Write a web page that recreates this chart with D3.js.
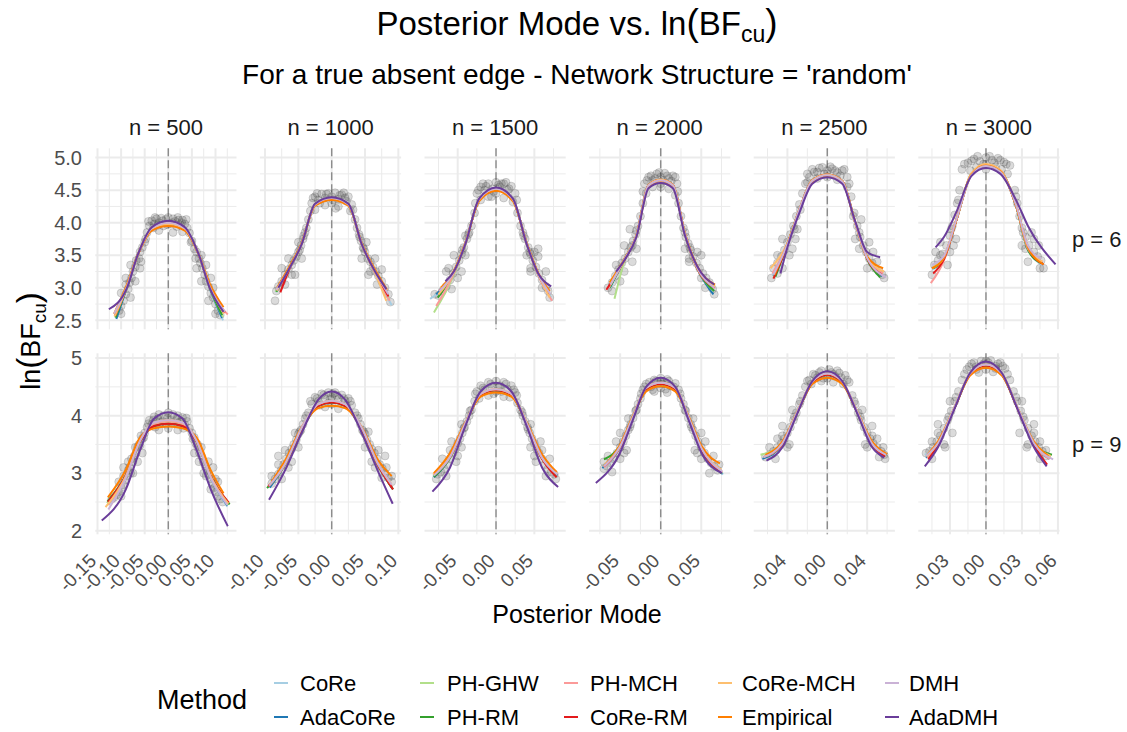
<!DOCTYPE html>
<meta charset="utf-8">
<head>
  <script src="https://d3js.org/d3.v7.min.js"></script>
  <style>
    body { margin: 0; background: #fff; }
    text { font-family: "Liberation Sans", Arial, Helvetica, sans-serif; }
  </style>
</head>
<body>
<div id="chart"></div>
<script>

// ---- data ----
var methods = ["CoRe", "AdaCoRe", "PH-GHW", "PH-RM", "PH-MCH", "CoRe-RM", "CoRe-MCH", "Empirical", "DMH", "AdaDMH"];
var methodColors = ["#A6CEE3", "#1F78B4", "#B2DF8A", "#33A02C", "#FB9A99", "#E31A1C", "#FDBF6F", "#FF7F00", "#CAB2D6", "#6A3D9A"];
var sampleSizes = [500, 1000, 1500, 2000, 2500, 3000];
var nodeCounts = [6, 9];

var xTicks = [
  [-0.15, -0.10, -0.05, 0, 0.05, 0.10],
  [-0.10, -0.05, 0, 0.05, 0.10],
  [-0.05, 0, 0.05],
  [-0.05, 0, 0.05],
  [-0.04, 0, 0.04],
  [-0.03, 0, 0.03, 0.06]
];
var yTicks = [[2.5, 3, 3.5, 4, 4.5, 5], [2, 3, 4, 5]];

// x positions of the fitted-curve knots, per column
var knots_p6 = [
  [-0.088, -0.065, -0.035, 0, 0.035, 0.065, 0.088],
  [-0.065, -0.045, -0.025, 0, 0.025, 0.045, 0.065],
  [-0.055, -0.04, -0.022, 0, 0.022, 0.04, 0.055],
  [-0.045, -0.03, -0.015, 0, 0.015, 0.03, 0.045],
  [-0.04, -0.028, -0.015, 0, 0.015, 0.028, 0.04],
  [-0.035, -0.025, -0.012, 0, 0.012, 0.025, 0.035]
];
var knots_p9 = [
  [-0.09, -0.06, -0.03, 0, 0.03, 0.06, 0.09],
  [-0.07, -0.045, -0.02, 0, 0.02, 0.045, 0.07],
  [-0.06, -0.04, -0.02, 0, 0.02, 0.04, 0.06],
  [-0.05, -0.035, -0.018, 0, 0.018, 0.035, 0.05],
  [-0.045, -0.03, -0.015, 0, 0.015, 0.03, 0.045],
  [-0.04, -0.027, -0.013, 0, 0.013, 0.027, 0.04]
];

// one row per method: [xLeft, yLeft, y at the 7 knots..., xRight, yRight]
var fit_p6_n500 = [
  [-0.112, 2.55, 3.00, 3.50, 3.90, 3.99, 3.90, 3.49, 2.98, 0.116, 2.50],
  [-0.110, 2.52, 3.00, 3.50, 3.90, 3.99, 3.90, 3.50, 2.99, 0.114, 2.54],
  [-0.113, 2.56, 3.00, 3.50, 3.90, 3.99, 3.90, 3.50, 2.99, 0.116, 2.55],
  [-0.112, 2.54, 3.00, 3.50, 3.90, 3.99, 3.90, 3.50, 3.00, 0.114, 2.58],
  [-0.112, 2.58, 3.01, 3.50, 3.90, 3.99, 3.90, 3.50, 3.00, 0.126, 2.59],
  [-0.113, 2.57, 3.01, 3.50, 3.90, 3.99, 3.90, 3.50, 3.01, 0.120, 2.62],
  [-0.114, 2.56, 3.01, 3.50, 3.90, 3.98, 3.90, 3.50, 3.01, 0.118, 2.60],
  [-0.115, 2.60, 3.04, 3.50, 3.88, 3.95, 3.88, 3.50, 3.06, 0.117, 2.70],
  [-0.115, 2.60, 3.01, 3.50, 3.91, 4.00, 3.91, 3.50, 3.01, 0.120, 2.63],
  [-0.126, 2.67, 2.99, 3.50, 3.93, 4.03, 3.93, 3.50, 2.99, 0.117, 2.63]
];
var fit_p6_n1000 = [
  [-0.084, 2.93, 3.26, 3.68, 4.28, 4.38, 4.28, 3.67, 3.22, 0.090, 2.73],
  [-0.083, 2.95, 3.27, 3.68, 4.28, 4.38, 4.28, 3.68, 3.24, 0.085, 2.85],
  [-0.084, 2.94, 3.27, 3.68, 4.28, 4.38, 4.28, 3.68, 3.24, 0.086, 2.84],
  [-0.083, 2.94, 3.27, 3.68, 4.28, 4.38, 4.28, 3.68, 3.24, 0.085, 2.86],
  [-0.082, 2.96, 3.27, 3.68, 4.28, 4.38, 4.28, 3.67, 3.23, 0.087, 2.80],
  [-0.077, 2.93, 3.25, 3.68, 4.28, 4.38, 4.28, 3.68, 3.24, 0.085, 2.87],
  [-0.083, 2.96, 3.28, 3.68, 4.28, 4.37, 4.28, 3.67, 3.23, 0.082, 2.80],
  [-0.082, 3.00, 3.30, 3.69, 4.26, 4.35, 4.26, 3.69, 3.28, 0.083, 2.97],
  [-0.083, 2.97, 3.27, 3.68, 4.28, 4.38, 4.28, 3.68, 3.25, 0.085, 2.90],
  [-0.080, 3.00, 3.27, 3.67, 4.29, 4.39, 4.29, 3.67, 3.25, 0.082, 2.98]
];
var fit_p6_n1500 = [
  [-0.086, 2.83, 3.24, 3.68, 4.35, 4.52, 4.35, 3.68, 3.20, 0.072, 2.85],
  [-0.078, 2.90, 3.24, 3.68, 4.35, 4.52, 4.35, 3.68, 3.21, 0.070, 2.90],
  [-0.081, 2.62, 3.20, 3.67, 4.35, 4.52, 4.35, 3.68, 3.21, 0.070, 2.88],
  [-0.076, 2.85, 3.23, 3.68, 4.35, 4.52, 4.35, 3.68, 3.21, 0.070, 2.90],
  [-0.078, 2.72, 3.22, 3.68, 4.35, 4.52, 4.35, 3.68, 3.20, 0.073, 2.80],
  [-0.074, 2.95, 3.24, 3.68, 4.35, 4.52, 4.35, 3.68, 3.21, 0.069, 2.90],
  [-0.075, 2.90, 3.24, 3.68, 4.35, 4.51, 4.35, 3.68, 3.21, 0.070, 2.85],
  [-0.072, 3.00, 3.26, 3.69, 4.33, 4.49, 4.33, 3.69, 3.23, 0.070, 2.95],
  [-0.074, 2.95, 3.24, 3.68, 4.36, 4.52, 4.36, 3.68, 3.21, 0.071, 2.90],
  [-0.066, 3.10, 3.25, 3.67, 4.37, 4.54, 4.37, 3.67, 3.22, 0.072, 3.02]
];
var fit_p6_n2000 = [
  [-0.062, 3.00, 3.43, 3.80, 4.58, 4.66, 4.58, 3.82, 3.30, 0.066, 2.95],
  [-0.062, 3.02, 3.43, 3.80, 4.58, 4.66, 4.58, 3.82, 3.30, 0.065, 2.90],
  [-0.057, 2.83, 3.40, 3.80, 4.58, 4.66, 4.58, 3.82, 3.30, 0.065, 2.95],
  [-0.063, 3.00, 3.43, 3.80, 4.58, 4.66, 4.58, 3.82, 3.30, 0.066, 2.95],
  [-0.064, 3.00, 3.43, 3.80, 4.58, 4.66, 4.58, 3.82, 3.30, 0.067, 3.00],
  [-0.067, 2.97, 3.42, 3.80, 4.58, 4.66, 4.58, 3.82, 3.30, 0.066, 3.00],
  [-0.062, 3.05, 3.43, 3.80, 4.58, 4.66, 4.58, 3.82, 3.31, 0.067, 3.02],
  [-0.063, 3.08, 3.44, 3.80, 4.56, 4.64, 4.56, 3.83, 3.33, 0.067, 3.05],
  [-0.062, 3.05, 3.43, 3.80, 4.57, 4.65, 4.57, 3.82, 3.31, 0.066, 3.00],
  [-0.055, 3.25, 3.42, 3.78, 4.53, 4.61, 4.53, 3.80, 3.33, 0.066, 3.05]
];
var fit_p6_n2500 = [
  [-0.055, 3.20, 3.67, 4.20, 4.65, 4.74, 4.64, 4.00, 3.45, 0.056, 3.20],
  [-0.054, 3.18, 3.67, 4.20, 4.65, 4.74, 4.64, 4.00, 3.45, 0.055, 3.18],
  [-0.054, 3.15, 3.67, 4.20, 4.65, 4.74, 4.64, 4.00, 3.45, 0.055, 3.20],
  [-0.052, 3.17, 3.67, 4.20, 4.65, 4.74, 4.64, 4.00, 3.44, 0.053, 3.16],
  [-0.055, 3.22, 3.67, 4.20, 4.65, 4.74, 4.64, 4.00, 3.45, 0.056, 3.22],
  [-0.054, 3.14, 3.66, 4.20, 4.65, 4.74, 4.64, 4.00, 3.45, 0.055, 3.20],
  [-0.057, 3.30, 3.68, 4.20, 4.65, 4.74, 4.64, 4.00, 3.46, 0.057, 3.25],
  [-0.053, 3.20, 3.68, 4.19, 4.63, 4.72, 4.62, 4.01, 3.48, 0.056, 3.30],
  [-0.054, 3.20, 3.67, 4.20, 4.64, 4.73, 4.63, 4.00, 3.46, 0.059, 3.16],
  [-0.047, 3.22, 3.62, 4.15, 4.60, 4.70, 4.60, 4.02, 3.55, 0.053, 3.47]
];
var fit_p6_n3000 = [
  [-0.045, 3.28, 3.45, 4.02, 4.75, 4.89, 4.80, 4.27, 3.60, 0.047, 3.35],
  [-0.045, 3.30, 3.45, 4.02, 4.75, 4.89, 4.80, 4.27, 3.60, 0.047, 3.38],
  [-0.044, 3.35, 3.47, 4.02, 4.75, 4.89, 4.80, 4.27, 3.60, 0.043, 3.42],
  [-0.044, 3.30, 3.45, 4.02, 4.75, 4.89, 4.80, 4.26, 3.58, 0.046, 3.38],
  [-0.046, 3.07, 3.42, 4.02, 4.75, 4.89, 4.80, 4.27, 3.60, 0.047, 3.40],
  [-0.044, 3.22, 3.44, 4.02, 4.75, 4.89, 4.80, 4.27, 3.62, 0.048, 3.36],
  [-0.045, 3.30, 3.47, 4.04, 4.76, 4.90, 4.81, 4.28, 3.62, 0.047, 3.40],
  [-0.045, 3.30, 3.47, 4.02, 4.74, 4.88, 4.79, 4.27, 3.63, 0.048, 3.36],
  [-0.045, 3.35, 3.49, 4.03, 4.73, 4.87, 4.78, 4.28, 3.65, 0.046, 3.45],
  [-0.042, 3.62, 3.78, 4.15, 4.72, 4.84, 4.75, 4.35, 3.95, 0.058, 3.36]
];
var fit_p9_n500 = [
  [-0.126, 2.45, 2.95, 3.55, 3.84, 3.88, 3.84, 3.55, 2.93, 0.125, 2.42],
  [-0.127, 2.47, 2.95, 3.55, 3.83, 3.87, 3.83, 3.55, 2.93, 0.125, 2.44],
  [-0.130, 2.48, 2.95, 3.55, 3.84, 3.88, 3.84, 3.55, 2.94, 0.128, 2.45],
  [-0.129, 2.51, 2.96, 3.55, 3.82, 3.86, 3.82, 3.55, 2.95, 0.130, 2.46],
  [-0.128, 2.45, 2.95, 3.56, 3.86, 3.90, 3.86, 3.56, 2.94, 0.127, 2.47],
  [-0.128, 2.50, 2.96, 3.55, 3.82, 3.86, 3.82, 3.55, 2.95, 0.128, 2.49],
  [-0.133, 2.41, 2.95, 3.57, 3.88, 3.92, 3.88, 3.57, 2.94, 0.127, 2.47],
  [-0.128, 2.58, 3.06, 3.62, 3.78, 3.81, 3.78, 3.62, 3.05, 0.117, 2.65],
  [-0.127, 2.37, 2.92, 3.56, 3.88, 3.92, 3.88, 3.56, 2.92, 0.125, 2.45],
  [-0.141, 2.18, 2.72, 3.40, 3.95, 4.06, 3.95, 3.40, 2.72, 0.126, 2.08]
];
var fit_p9_n1000 = [
  [-0.094, 2.76, 3.15, 3.77, 4.18, 4.24, 4.18, 3.77, 3.13, 0.091, 2.74],
  [-0.093, 2.75, 3.15, 3.77, 4.17, 4.23, 4.17, 3.77, 3.13, 0.091, 2.73],
  [-0.096, 2.75, 3.15, 3.77, 4.18, 4.24, 4.18, 3.77, 3.14, 0.090, 2.76],
  [-0.097, 2.74, 3.15, 3.77, 4.17, 4.23, 4.17, 3.77, 3.13, 0.092, 2.72],
  [-0.095, 2.77, 3.16, 3.78, 4.19, 4.25, 4.19, 3.78, 3.14, 0.090, 2.78],
  [-0.095, 2.77, 3.16, 3.77, 4.17, 4.23, 4.17, 3.77, 3.13, 0.092, 2.72],
  [-0.093, 2.80, 3.17, 3.79, 4.20, 4.26, 4.20, 3.79, 3.15, 0.089, 2.82],
  [-0.090, 2.85, 3.22, 3.80, 4.13, 4.17, 4.13, 3.80, 3.22, 0.090, 2.95],
  [-0.094, 2.78, 3.16, 3.79, 4.20, 4.26, 4.20, 3.79, 3.15, 0.090, 2.80],
  [-0.094, 2.54, 3.05, 3.70, 4.28, 4.42, 4.28, 3.70, 3.02, 0.0915, 2.47]
];
var fit_p9_n1500 = [
  [-0.082, 2.95, 3.27, 3.86, 4.37, 4.45, 4.37, 3.86, 3.26, 0.080, 2.98],
  [-0.081, 2.93, 3.27, 3.86, 4.36, 4.44, 4.36, 3.86, 3.26, 0.080, 2.97],
  [-0.082, 2.96, 3.27, 3.86, 4.37, 4.45, 4.37, 3.86, 3.26, 0.079, 2.98],
  [-0.081, 2.94, 3.27, 3.86, 4.36, 4.44, 4.36, 3.86, 3.26, 0.079, 2.97],
  [-0.081, 2.97, 3.28, 3.87, 4.38, 4.46, 4.38, 3.87, 3.27, 0.080, 2.98],
  [-0.081, 2.97, 3.28, 3.86, 4.36, 4.44, 4.36, 3.86, 3.25, 0.079, 2.93],
  [-0.082, 2.98, 3.29, 3.87, 4.38, 4.46, 4.38, 3.87, 3.27, 0.080, 3.00],
  [-0.081, 3.00, 3.35, 3.88, 4.33, 4.40, 4.33, 3.88, 3.33, 0.079, 3.02],
  [-0.081, 2.96, 3.28, 3.87, 4.38, 4.46, 4.38, 3.87, 3.27, 0.080, 2.98],
  [-0.083, 2.68, 3.10, 3.82, 4.42, 4.57, 4.42, 3.82, 3.10, 0.081, 2.76]
];
var fit_p9_n2000 = [
  [-0.071, 3.08, 3.45, 3.94, 4.47, 4.56, 4.47, 3.94, 3.42, 0.077, 2.98],
  [-0.072, 3.09, 3.45, 3.94, 4.47, 4.56, 4.47, 3.94, 3.42, 0.076, 2.99],
  [-0.071, 3.12, 3.46, 3.94, 4.47, 4.56, 4.47, 3.94, 3.42, 0.076, 3.00],
  [-0.070, 3.24, 3.48, 3.94, 4.46, 4.55, 4.46, 3.94, 3.42, 0.075, 3.00],
  [-0.070, 3.10, 3.46, 3.95, 4.48, 4.57, 4.48, 3.95, 3.43, 0.076, 3.02],
  [-0.070, 3.12, 3.46, 3.94, 4.46, 4.55, 4.46, 3.94, 3.42, 0.074, 3.03],
  [-0.069, 3.15, 3.47, 3.95, 4.48, 4.57, 4.48, 3.95, 3.44, 0.075, 3.06],
  [-0.068, 3.15, 3.50, 3.97, 4.42, 4.51, 4.42, 3.97, 3.48, 0.073, 3.17],
  [-0.070, 3.12, 3.47, 3.95, 4.48, 4.57, 4.48, 3.95, 3.44, 0.076, 3.03],
  [-0.080, 2.83, 3.36, 3.90, 4.50, 4.66, 4.50, 3.90, 3.36, 0.0755, 3.00]
];
var fit_p9_n2500 = [
  [-0.064, 3.26, 3.50, 4.06, 4.58, 4.72, 4.58, 4.06, 3.50, 0.058, 3.30],
  [-0.065, 3.25, 3.50, 4.06, 4.57, 4.71, 4.57, 4.06, 3.50, 0.058, 3.29],
  [-0.067, 3.32, 3.51, 4.06, 4.58, 4.72, 4.58, 4.06, 3.50, 0.059, 3.32],
  [-0.064, 3.28, 3.50, 4.06, 4.57, 4.71, 4.57, 4.06, 3.50, 0.060, 3.33],
  [-0.064, 3.28, 3.50, 4.06, 4.58, 4.72, 4.58, 4.06, 3.50, 0.058, 3.30],
  [-0.062, 3.30, 3.51, 4.06, 4.57, 4.71, 4.57, 4.06, 3.50, 0.058, 3.29],
  [-0.063, 3.30, 3.52, 4.07, 4.59, 4.73, 4.59, 4.07, 3.51, 0.059, 3.34],
  [-0.062, 3.32, 3.55, 4.07, 4.55, 4.66, 4.55, 4.07, 3.55, 0.060, 3.33],
  [-0.064, 3.28, 3.52, 4.07, 4.59, 4.73, 4.59, 4.07, 3.51, 0.059, 3.32],
  [-0.061, 3.22, 3.45, 4.04, 4.60, 4.77, 4.60, 4.04, 3.45, 0.057, 3.27]
];
var fit_p9_n3000 = [
  [-0.051, 3.32, 3.50, 4.10, 4.73, 4.88, 4.73, 4.10, 3.50, 0.054, 3.28],
  [-0.050, 3.27, 3.50, 4.10, 4.72, 4.87, 4.72, 4.10, 3.50, 0.053, 3.25],
  [-0.050, 3.30, 3.51, 4.10, 4.73, 4.88, 4.73, 4.10, 3.50, 0.054, 3.30],
  [-0.049, 3.28, 3.50, 4.10, 4.72, 4.87, 4.72, 4.10, 3.50, 0.055, 3.32],
  [-0.049, 3.27, 3.50, 4.10, 4.73, 4.88, 4.73, 4.10, 3.50, 0.053, 3.25],
  [-0.048, 3.24, 3.49, 4.10, 4.72, 4.87, 4.72, 4.09, 3.48, 0.051, 3.15],
  [-0.049, 3.30, 3.52, 4.11, 4.74, 4.89, 4.74, 4.11, 3.52, 0.054, 3.30],
  [-0.049, 3.32, 3.55, 4.10, 4.70, 4.83, 4.70, 4.10, 3.55, 0.052, 3.30],
  [-0.050, 3.30, 3.52, 4.11, 4.74, 4.89, 4.74, 4.11, 3.52, 0.056, 3.24],
  [-0.051, 3.12, 3.45, 4.08, 4.75, 4.94, 4.75, 4.08, 3.45, 0.0506, 3.12]
];

// simulated estimates (posterior mode, ln BF) shown as the grey cloud
var points_p6_n500 = [[-0.04,3.95],[-0.035,4.03],[-0.03,3.98],[-0.025,4.06],[-0.02,4.0],[-0.015,4.07],[-0.01,3.95],[-0.005,4.05],[0,4.08],[0.005,3.98],[0.01,4.06],[0.015,4.02],[0.02,4.08],[0.025,3.97],[0.03,4.04],[0.035,3.98],[0.04,3.92],[-0.02,3.88],[0.01,3.85],[0.03,3.86],[-0.045,3.85],[0.045,3.84],
  [-0.05,3.7],[-0.055,3.62],[-0.06,3.55],[-0.062,3.45],[-0.068,3.42],[-0.07,3.32],[-0.075,3.25],[-0.078,3.15],[-0.082,3.08],[-0.085,2.98],[-0.09,2.9],[-0.095,2.8],[-0.1,2.72],[-0.104,2.65],[-0.09,3.05],[-0.1,2.92],[-0.08,2.85],
  [0.05,3.72],[0.055,3.6],[0.06,3.55],[0.065,3.45],[0.068,3.38],[0.072,3.3],[0.077,3.2],[0.08,3.1],[0.085,3.02],[0.09,2.92],[0.095,2.85],[0.1,2.75],[0.105,2.65],[0.11,2.58],[0.095,3.0],[0.085,2.8],[0.07,3.5],
  [-0.042,4.02],[-0.032,3.92],[-0.022,3.96],[-0.012,4.03],[-0.002,3.97],[0.008,4.0],[0.018,3.94],[0.028,4.0],[0.038,4.05],[-0.028,4.08],[0.022,4.04],[-0.048,3.75],[0.048,3.7],[-0.058,3.4],[0.058,3.45],
  [-0.07,3.1],[-0.08,3.35],[-0.06,3.3],[-0.09,3.15],[-0.1,2.6],[0.07,3.1],[0.08,3.35],[0.06,3.3],[0.09,3.15],[0.1,2.6]];
var points_p6_n1000 = [[-0.03,4.3],[-0.025,4.4],[-0.02,4.35],[-0.015,4.44],[-0.01,4.38],[-0.005,4.45],[0,4.4],[0.005,4.46],[0.01,4.36],[0.015,4.43],[0.02,4.38],[0.025,4.4],[0.03,4.28],[-0.01,4.27],[0.01,4.25],[-0.025,4.2],[0.028,4.18],[0,4.3],
  [-0.035,4.05],[-0.038,3.92],[-0.04,3.85],[-0.043,3.75],[-0.046,3.65],[-0.05,3.55],[-0.053,3.48],[-0.057,3.42],[-0.06,3.35],[-0.065,3.28],[-0.07,3.2],[-0.075,3.1],[-0.08,3.02],[-0.083,2.95],[-0.07,3.05],[-0.06,3.2],[-0.05,3.7],
  [0.035,4.05],[0.038,3.92],[0.041,3.82],[0.044,3.72],[0.047,3.62],[0.05,3.55],[0.054,3.45],[0.058,3.4],[0.062,3.32],[0.066,3.25],[0.07,3.18],[0.075,3.1],[0.08,3.0],[0.085,2.9],[0.068,3.05],[0.058,3.25],[0.052,3.7],
  [-0.028,4.38],[-0.018,4.3],[-0.008,4.44],[0.002,4.35],[0.012,4.42],[0.022,4.33],[0.032,4.2],[-0.032,4.18],[-0.022,4.45],[0.018,4.46],[-0.042,3.8],[0.042,3.78],[-0.048,3.58],[0.048,3.6],[0.006,4.22],
  [-0.055,3.2],[-0.065,3.45],[-0.045,3.45],[-0.075,3.3],[0.055,3.2],[0.065,3.45],[0.045,3.45],[0.075,3.28],[-0.085,2.8],[0.088,2.78]];
var points_p6_n1500 = [[-0.025,4.45],[-0.02,4.55],[-0.015,4.5],[-0.01,4.6],[-0.005,4.52],[0,4.62],[0.005,4.55],[0.01,4.6],[0.015,4.5],[0.02,4.56],[0.025,4.45],[-0.01,4.4],[0.01,4.38],[0,4.45],[-0.02,4.35],[0.022,4.32],
  [-0.028,4.15],[-0.032,3.95],[-0.035,3.85],[-0.038,3.75],[-0.042,3.62],[-0.045,3.52],[-0.048,3.42],[-0.052,3.32],[-0.056,3.22],[-0.06,3.12],[-0.065,3.02],[-0.07,2.95],[-0.075,2.88],[-0.058,2.98],[-0.05,3.15],[-0.04,3.8],[-0.062,3.3],
  [0.028,4.15],[0.032,3.95],[0.035,3.85],[0.038,3.75],[0.042,3.62],[0.045,3.52],[0.048,3.42],[0.052,3.32],[0.056,3.22],[0.06,3.12],[0.065,3.02],[0.068,2.95],[0.055,3.6],[0.06,3.0],[0.045,3.3],[0.05,3.55],
  [-0.023,4.5],[-0.013,4.56],[-0.003,4.48],[0.007,4.6],[0.017,4.52],[0.027,4.35],[-0.027,4.3],[-0.017,4.6],[0.013,4.62],[-0.006,4.4],[-0.036,3.82],[0.036,3.8],[-0.044,3.58],[0.044,3.55],[0.003,4.58],
  [-0.045,3.25],[-0.055,3.5],[-0.04,3.5],[-0.065,3.25],[0.045,3.25],[0.055,3.48],[0.04,3.5],[0.065,3.25],[-0.08,2.9],[0.07,2.85]];
var points_p6_n2000 = [[-0.02,4.6],[-0.015,4.7],[-0.01,4.65],[-0.005,4.75],[0,4.7],[0.005,4.76],[0.01,4.68],[0.015,4.72],[0.02,4.6],[-0.01,4.55],[0.01,4.52],[0,4.6],[-0.018,4.45],[0.018,4.42],
  [-0.022,4.3],[-0.025,4.1],[-0.028,3.95],[-0.031,3.82],[-0.034,3.72],[-0.037,3.62],[-0.04,3.55],[-0.044,3.45],[-0.048,3.38],[-0.052,3.28],[-0.056,3.18],[-0.06,3.08],[-0.05,3.1],[-0.045,3.25],[-0.038,3.9],[-0.06,2.95],
  [0.022,4.3],[0.025,4.1],[0.028,3.92],[0.031,3.78],[0.034,3.68],[0.037,3.58],[0.04,3.48],[0.044,3.38],[0.048,3.3],[0.052,3.22],[0.056,3.15],[0.06,3.08],[0.064,2.98],[0.05,3.5],[0.055,3.0],[0.035,3.4],
  [-0.017,4.65],[-0.012,4.72],[-0.007,4.68],[-0.002,4.77],[0.003,4.65],[0.008,4.72],[0.013,4.64],[0.018,4.7],[-0.022,4.48],[0.021,4.48],[-0.03,3.88],[0.03,3.85],[-0.035,3.65],[0.036,3.62],[0,4.55],
  [-0.035,3.4],[-0.045,3.65],[-0.03,3.6],[-0.055,3.35],[0.035,3.45],[0.045,3.55],[0.03,3.6],[0.05,3.15],[-0.065,3.0],[0.066,2.9]];
var points_p6_n2500 = [[-0.02,4.75],[-0.015,4.82],[-0.01,4.78],[-0.005,4.85],[0,4.8],[0.005,4.83],[0.01,4.77],[0.015,4.8],[0.02,4.7],[-0.01,4.68],[0.01,4.66],[0,4.7],[-0.022,4.6],[0.02,4.55],
  [-0.025,4.45],[-0.028,4.28],[-0.031,4.1],[-0.034,3.95],[-0.037,3.82],[-0.04,3.7],[-0.043,3.58],[-0.046,3.48],[-0.05,3.38],[-0.054,3.3],[-0.045,3.3],[-0.038,3.5],[-0.03,3.9],[-0.05,3.22],
  [0.024,4.4],[0.027,4.15],[0.03,3.95],[0.033,3.78],[0.036,3.65],[0.039,3.55],[0.042,3.45],[0.045,3.38],[0.048,3.3],[0.052,3.25],[0.046,3.55],[0.04,3.3],[0.034,4.05],[0.055,3.2],
  [-0.018,4.7],[-0.013,4.78],[-0.008,4.84],[-0.003,4.75],[0.003,4.86],[0.008,4.8],[0.013,4.72],[0.017,4.82],[-0.02,4.62],[0.022,4.6],[-0.027,4.2],[0.026,4.1],[-0.033,3.9],[0.032,3.85],[0,4.75],
  [-0.035,3.6],[-0.045,3.75],[-0.032,3.75],[-0.05,3.5],[0.032,3.6],[0.042,3.7],[0.028,3.75],[0.05,3.4],[-0.056,3.15],[0.057,3.15]];
var points_p6_n3000 = [[-0.015,4.92],[-0.01,4.98],[-0.005,4.94],[0,5.0],[0.005,4.96],[0.01,4.99],[0.015,4.93],[0.02,4.88],[-0.02,4.82],[-0.008,4.85],[0.008,4.86],[0.018,4.75],[0,4.82],
  [-0.022,4.5],[-0.024,4.3],[-0.026,4.12],[-0.028,3.95],[-0.03,3.8],[-0.033,3.65],[-0.036,3.52],[-0.04,3.42],[-0.043,3.35],[-0.032,3.35],[-0.025,3.75],[-0.038,3.7],
  [0.024,4.5],[0.026,4.3],[0.028,4.1],[0.03,3.92],[0.033,3.78],[0.036,3.65],[0.04,3.55],[0.043,3.48],[0.046,3.42],[0.038,3.85],[0.044,3.65],[0.035,3.4],
  [-0.018,4.9],[-0.012,4.95],[-0.007,5.02],[-0.002,4.9],[0.003,5.02],[0.007,4.92],[0.012,4.96],[0.017,4.9],[-0.013,4.8],[0.013,4.82],[-0.023,4.35],[0.025,4.4],[-0.029,3.9],[0.031,3.85],[0,4.9],
  [-0.03,3.55],[-0.038,3.5],[-0.027,3.65],[-0.042,3.55],[0.033,3.6],[0.04,3.75],[0.03,3.65],[0.045,3.3],[-0.045,3.2],[0.048,3.3]];
var points_p9_n500 = [[-0.045,3.8],[-0.04,3.92],[-0.035,3.85],[-0.03,3.98],[-0.025,3.9],[-0.02,4.02],[-0.015,3.88],[-0.01,4.0],[-0.005,3.85],[0,4.05],[0.005,3.92],[0.01,4.02],[0.015,3.86],[0.02,4.0],[0.025,3.9],[0.03,3.97],[0.035,3.84],[0.04,3.9],[0.045,3.78],[-0.02,3.75],[0.02,3.75],[0,3.78],
  [-0.05,3.7],[-0.055,3.6],[-0.058,3.65],[-0.06,3.48],[-0.065,3.45],[-0.068,3.35],[-0.072,3.3],[-0.075,3.2],[-0.078,3.25],[-0.082,3.1],[-0.085,3.05],[-0.088,2.95],[-0.092,2.88],[-0.096,2.8],[-0.1,2.75],[-0.105,2.68],[-0.11,2.62],[-0.115,2.58],[-0.12,2.55],[-0.095,2.95],[-0.08,3.0],[-0.07,3.45],[-0.1,2.6],
  [0.05,3.7],[0.055,3.62],[0.058,3.52],[0.062,3.45],[0.066,3.35],[0.07,3.3],[0.074,3.2],[0.078,3.12],[0.082,3.05],[0.086,2.98],[0.09,2.9],[0.094,2.82],[0.098,2.75],[0.102,2.68],[0.106,2.6],[0.11,2.55],[0.115,2.5],[0.09,2.72],[0.08,2.95],[0.07,3.45],[0.1,2.9],
  [-0.042,3.86],[-0.032,3.92],[-0.022,3.95],[-0.012,3.9],[-0.002,3.96],[0.008,3.88],[0.018,3.94],[0.028,3.9],[0.038,3.96],[-0.028,3.8],[0.032,3.78],[-0.052,3.62],[0.052,3.6],[-0.062,3.5],[0.062,3.5],
  [-0.085,3.2],[-0.075,3.0],[-0.095,3.1],[-0.065,3.2],[-0.055,3.35],[0.085,3.2],[0.075,3.0],[0.095,3.1],[0.065,3.2],[0.055,3.35],[-0.105,2.85],[0.105,2.85]];
var points_p9_n1000 = [[-0.03,4.2],[-0.025,4.32],[-0.02,4.25],[-0.015,4.38],[-0.01,4.3],[-0.005,4.4],[0,4.32],[0.005,4.4],[0.01,4.28],[0.015,4.36],[0.02,4.26],[0.025,4.3],[0.03,4.18],[-0.01,4.15],[0.01,4.12],[0,4.2],[-0.035,4.05],[0.035,4.05],
  [-0.04,3.95],[-0.043,3.85],[-0.046,3.75],[-0.05,3.68],[-0.053,3.58],[-0.057,3.5],[-0.06,3.42],[-0.064,3.35],[-0.068,3.25],[-0.072,3.15],[-0.076,3.05],[-0.08,2.98],[-0.085,2.9],[-0.09,2.82],[-0.065,3.1],[-0.055,3.7],[-0.075,2.9],[-0.08,3.15],
  [0.04,3.95],[0.043,3.85],[0.046,3.75],[0.05,3.68],[0.053,3.58],[0.057,3.5],[0.06,3.42],[0.064,3.35],[0.068,3.25],[0.072,3.15],[0.076,3.08],[0.08,3.0],[0.085,2.92],[0.09,2.85],[0.065,3.1],[0.055,3.72],[0.075,2.92],[0.082,3.1],
  [-0.032,4.25],[-0.022,4.3],[-0.012,4.36],[-0.002,4.28],[0.008,4.35],[0.018,4.3],[0.028,4.25],[-0.018,4.18],[0.022,4.18],[-0.005,4.22],[-0.038,4.0],[0.038,4.0],[-0.048,3.72],[0.048,3.72],[0.002,4.38],
  [-0.07,3.4],[-0.06,3.2],[-0.08,3.3],[-0.05,3.45],[0.07,3.4],[0.06,3.2],[0.08,3.3],[0.05,3.45],[-0.09,2.95],[0.09,2.95]];
var points_p9_n1500 = [[-0.025,4.42],[-0.02,4.52],[-0.015,4.45],[-0.01,4.58],[-0.005,4.5],[0,4.6],[0.005,4.52],[0.01,4.58],[0.015,4.46],[0.02,4.52],[0.025,4.4],[-0.01,4.35],[0.01,4.33],[0,4.42],[-0.028,4.25],[0.028,4.22],
  [-0.032,4.1],[-0.035,4.0],[-0.038,3.9],[-0.041,3.8],[-0.044,3.7],[-0.047,3.6],[-0.05,3.52],[-0.053,3.42],[-0.056,3.35],[-0.06,3.25],[-0.064,3.15],[-0.068,3.08],[-0.072,3.02],[-0.076,2.98],[-0.058,3.55],[-0.05,3.3],[-0.065,2.95],[-0.045,3.85],
  [0.032,4.1],[0.035,4.0],[0.038,3.9],[0.041,3.8],[0.044,3.7],[0.047,3.6],[0.05,3.52],[0.053,3.42],[0.056,3.35],[0.06,3.25],[0.064,3.15],[0.068,3.08],[0.072,3.02],[0.076,2.98],[0.058,3.55],[0.05,3.3],[0.065,2.95],[0.045,3.85],
  [-0.027,4.38],[-0.017,4.48],[-0.007,4.55],[0.003,4.48],[0.013,4.55],[0.023,4.45],[-0.022,4.3],[0.018,4.32],[-0.003,4.38],[0.007,4.42],[-0.034,4.08],[0.034,4.06],[-0.042,3.78],[0.042,3.76],[0.027,4.35],
  [-0.06,3.4],[-0.052,3.2],[-0.07,3.25],[-0.045,3.45],[0.06,3.4],[0.052,3.2],[0.07,3.25],[0.045,3.45],[-0.078,2.9],[0.078,2.9]];
var points_p9_n2000 = [[-0.022,4.45],[-0.018,4.55],[-0.012,4.5],[-0.008,4.62],[-0.004,4.55],[0,4.65],[0.004,4.56],[0.008,4.63],[0.012,4.52],[0.018,4.56],[0.022,4.45],[-0.008,4.42],[0.008,4.4],[0,4.48],[-0.025,4.3],[0.025,4.3],
  [-0.028,4.2],[-0.031,4.08],[-0.034,3.96],[-0.037,3.85],[-0.04,3.75],[-0.043,3.65],[-0.046,3.55],[-0.05,3.45],[-0.054,3.35],[-0.058,3.25],[-0.062,3.18],[-0.066,3.12],[-0.07,3.08],[-0.05,3.7],[-0.045,3.35],[-0.06,3.02],[-0.04,3.95],
  [0.028,4.2],[0.031,4.08],[0.034,3.96],[0.037,3.85],[0.04,3.75],[0.043,3.65],[0.046,3.55],[0.05,3.45],[0.054,3.35],[0.058,3.25],[0.062,3.18],[0.066,3.12],[0.07,3.05],[0.05,3.7],[0.045,3.35],[0.06,3.0],[0.04,3.95],
  [-0.02,4.5],[-0.014,4.58],[-0.006,4.6],[0.002,4.55],[0.01,4.6],[0.016,4.5],[0.024,4.38],[-0.024,4.38],[-0.01,4.45],[0.006,4.46],[-0.03,4.1],[0.03,4.1],[-0.038,3.8],[0.038,3.8],[0,4.6],
  [-0.05,3.25],[-0.042,3.4],[-0.055,3.55],[-0.065,3.3],[0.05,3.25],[0.042,3.4],[0.055,3.55],[0.065,3.3],[-0.07,3.2],[0.072,3.15]];
var points_p9_n2500 = [[-0.018,4.62],[-0.014,4.72],[-0.01,4.66],[-0.006,4.78],[-0.002,4.7],[0.002,4.8],[0.006,4.72],[0.01,4.78],[0.014,4.66],[0.018,4.7],[0.022,4.58],[-0.006,4.6],[0.006,4.58],[-0.022,4.5],[0,4.65],
  [-0.025,4.35],[-0.028,4.2],[-0.031,4.05],[-0.034,3.92],[-0.037,3.8],[-0.04,3.7],[-0.043,3.6],[-0.046,3.52],[-0.05,3.45],[-0.054,3.38],[-0.058,3.32],[-0.045,3.82],[-0.04,3.45],[-0.052,3.25],[-0.035,4.1],
  [0.025,4.35],[0.028,4.2],[0.031,4.05],[0.034,3.92],[0.037,3.8],[0.04,3.7],[0.043,3.6],[0.046,3.52],[0.05,3.45],[0.054,3.38],[0.057,3.32],[0.045,3.82],[0.04,3.45],[0.052,3.28],[0.035,4.1],
  [-0.02,4.6],[-0.012,4.7],[-0.008,4.75],[-0.004,4.65],[0.004,4.75],[0.008,4.68],[0.012,4.74],[0.02,4.62],[-0.016,4.55],[0.016,4.55],[-0.027,4.25],[0.027,4.25],[-0.033,3.98],[0.033,3.98],[0,4.72],
  [-0.045,3.65],[-0.038,3.5],[-0.05,3.6],[-0.058,3.45],[0.045,3.65],[0.038,3.5],[0.05,3.6],[0.056,3.45],[-0.062,3.28],[0.058,3.25]];
var points_p9_n3000 = [[-0.016,4.8],[-0.012,4.9],[-0.008,4.85],[-0.004,4.95],[0,4.88],[0.004,4.96],[0.008,4.86],[0.012,4.92],[0.016,4.82],[-0.006,4.75],[0.006,4.76],[-0.02,4.62],[0.02,4.62],[0,4.8],
  [-0.023,4.42],[-0.026,4.25],[-0.029,4.08],[-0.032,3.92],[-0.035,3.78],[-0.038,3.65],[-0.041,3.55],[-0.044,3.45],[-0.047,3.38],[-0.04,3.85],[-0.035,3.5],[-0.045,3.25],[-0.03,4.25],
  [0.023,4.42],[0.026,4.25],[0.029,4.08],[0.032,3.92],[0.035,3.78],[0.038,3.65],[0.041,3.55],[0.044,3.45],[0.047,3.38],[0.05,3.3],[0.04,3.85],[0.035,3.5],[0.045,3.25],[0.03,4.25],
  [-0.018,4.72],[-0.014,4.85],[-0.01,4.92],[-0.002,4.9],[0.002,4.92],[0.01,4.9],[0.014,4.86],[0.018,4.72],[-0.008,4.8],[0.008,4.82],[-0.025,4.32],[0.025,4.32],[-0.031,3.98],[0.031,3.98],[0,4.95],
  [-0.04,3.7],[-0.034,3.45],[-0.045,3.55],[-0.05,3.35],[0.04,3.7],[0.034,3.45],[0.045,3.55],[0.05,3.4],[-0.028,3.7],[0.028,3.7]];

var fits = {
  6: [fit_p6_n500, fit_p6_n1000, fit_p6_n1500, fit_p6_n2000, fit_p6_n2500, fit_p6_n3000],
  9: [fit_p9_n500, fit_p9_n1000, fit_p9_n1500, fit_p9_n2000, fit_p9_n2500, fit_p9_n3000]
};
var clouds = {
  6: [points_p6_n500, points_p6_n1000, points_p6_n1500, points_p6_n2000, points_p6_n2500, points_p6_n3000],
  9: [points_p9_n500, points_p9_n1000, points_p9_n1500, points_p9_n2000, points_p9_n2500, points_p9_n3000]
};
var knots = { 6: knots_p6, 9: knots_p9 };

// ---- layout ----
var width = 1127, height = 732;
var panelLeft = 95.3, panelStep = 164.6, panelW = 141.2;
var rowTop = [148.3, 353.3], panelH = 181;
var xDomains = [[-0.1547, 0.1445], [-0.1077, 0.1041], [-0.0933, 0.0909], [-0.0883, 0.0858], [-0.0738, 0.0678], [-0.0564, 0.0613]];
var yDomains = [[2.362, 5.143], [1.939, 5.083]];

var svg = d3.select("#chart")
  .append("svg")
    .attr("width", width)
    .attr("height", height);

// minor breaks sit half way between major breaks
function minorBreaks(ticks, domain) {
  var step = ticks[1] - ticks[0], out = [];
  for (var i = -1; i < ticks.length; i++) {
    var v = (i < 0 ? ticks[0] - step / 2 : ticks[i] + step / 2);
    if (v > domain[0] && v < domain[1]) out.push(v);
  }
  return out;
}

nodeCounts.forEach(function(p, r) {
  var y = d3.scaleLinear().domain(yDomains[r]).range([rowTop[r] + panelH, rowTop[r]]);

  // y axis labels on the left only
  svg.append("g").selectAll("text")
    .data(yTicks[r])
    .join("text")
      .attr("x", 82)
      .attr("y", function(d) { return y(d); })
      .attr("dy", "0.36em")
      .attr("text-anchor", "end")
      .style("font-size", "20px")
      .style("fill", "#4D4D4D")
      .text(function(d) { return r == 0 ? d.toFixed(1) : d.toFixed(0); });

  sampleSizes.forEach(function(n, c) {
    var x0 = panelLeft + c * panelStep;
    var x = d3.scaleLinear().domain(xDomains[c]).range([x0, x0 + panelW]);
    var g = svg.append("g");

    // grid
    g.selectAll(".ymin").data(minorBreaks(yTicks[r], yDomains[r])).join("line")
      .attr("x1", x0).attr("x2", x0 + panelW)
      .attr("y1", function(d) { return y(d); }).attr("y2", function(d) { return y(d); })
      .attr("stroke", "#EBEBEB").attr("stroke-width", 1);
    g.selectAll(".xmin").data(minorBreaks(xTicks[c], xDomains[c])).join("line")
      .attr("y1", rowTop[r]).attr("y2", rowTop[r] + panelH)
      .attr("x1", function(d) { return x(d); }).attr("x2", function(d) { return x(d); })
      .attr("stroke", "#EBEBEB").attr("stroke-width", 1);
    g.selectAll(".ymaj").data(yTicks[r]).join("line")
      .attr("x1", x0).attr("x2", x0 + panelW)
      .attr("y1", function(d) { return y(d); }).attr("y2", function(d) { return y(d); })
      .attr("stroke", "#EBEBEB").attr("stroke-width", 2);
    g.selectAll(".xmaj").data(xTicks[c]).join("line")
      .attr("y1", rowTop[r]).attr("y2", rowTop[r] + panelH)
      .attr("x1", function(d) { return x(d); }).attr("x2", function(d) { return x(d); })
      .attr("stroke", "#EBEBEB").attr("stroke-width", 2);

    // dashed line at zero
    g.append("line")
      .attr("x1", x(0)).attr("x2", x(0))
      .attr("y1", rowTop[r]).attr("y2", rowTop[r] + panelH)
      .attr("stroke", "#8C8C8C").attr("stroke-width", 1.4)
      .attr("stroke-dasharray", "8,4");

    // grey cloud of estimates
    g.selectAll("circle").data(clouds[p][c]).join("circle")
      .attr("cx", function(d) { return x(d[0]); })
      .attr("cy", function(d) { return y(d[1]); })
      .attr("r", 4)
      .style("fill", "#4A4A4A").style("fill-opacity", 0.2)
      .style("stroke", "#4A4A4A").style("stroke-opacity", 0.2);

    // fitted curves, one per method
    var k = knots[p][c];
    var line = d3.line()
      .x(function(d) { return x(d[0]); })
      .y(function(d) { return y(d[1]); })
      .curve(d3.curveMonotoneX);
    fits[p][c].forEach(function(row, m) {
      var pts = [[row[0], row[1]]];
      k.forEach(function(kx, j) { pts.push([kx, row[2 + j]]); });
      pts.push([row[9], row[10]]);
      g.append("path")
        .datum(pts)
        .attr("fill", "none")
        .attr("stroke", methodColors[m])
        .attr("stroke-width", 2)
        .attr("d", line);
    });

    // strip label on top
    if (r == 0) {
      svg.append("text")
        .attr("x", x0 + panelW / 2).attr("y", 135)
        .attr("text-anchor", "middle")
        .style("font-size", "22px").style("fill", "#1A1A1A")
        .text("n = " + n);
    }

    // x axis labels under the bottom row
    if (r == 1) {
      svg.append("g").selectAll("text")
        .data(xTicks[c])
        .join("text")
          .attr("transform", function(d) { return "translate(" + x(d) + "," + 562 + ") rotate(-45)"; })
          .attr("text-anchor", "end")
          .style("font-size", "19px")
          .style("fill", "#4D4D4D")
          .text(function(d) { return d.toFixed(2); });
    }
  });

  // strip label on the right
  svg.append("text")
    .attr("x", 1072).attr("y", rowTop[r] + panelH / 2)
    .attr("dy", "0.36em")
    .style("font-size", "22px").style("fill", "#1A1A1A")
    .text("p = " + p);
});

// ---- titles ----
var title = svg.append("text")
  .attr("x", 577).attr("y", 35)
  .attr("text-anchor", "middle")
  .style("font-size", "33px").style("fill", "#000");
title.append("tspan").text("Posterior Mode vs. ln");
title.append("tspan").text("(").style("font-size", "37px");
title.append("tspan").text("BF");
title.append("tspan").text("cu").attr("dy", 7).style("font-size", "23px");
title.append("tspan").text(")").attr("dy", -7).style("font-size", "37px");

svg.append("text")
  .attr("x", 577).attr("y", 84)
  .attr("text-anchor", "middle")
  .style("font-size", "28px").style("fill", "#000")
  .text("For a true absent edge - Network Structure = 'random'");

svg.append("text")
  .attr("x", 577).attr("y", 623)
  .attr("text-anchor", "middle")
  .style("font-size", "25px").style("fill", "#000")
  .text("Posterior Mode");

var ytitle = svg.append("text")
  .attr("transform", "translate(40,341) rotate(-90)")
  .attr("text-anchor", "middle")
  .style("font-size", "27px").style("fill", "#000");
ytitle.append("tspan").text("ln");
ytitle.append("tspan").text("(").style("font-size", "33px");
ytitle.append("tspan").text("BF");
ytitle.append("tspan").text("cu").attr("dy", 6).style("font-size", "19px");
ytitle.append("tspan").text(")").attr("dy", -6).style("font-size", "33px");

// ---- legend ----
svg.append("text")
  .attr("x", 157).attr("y", 709)
  .style("font-size", "27px").style("fill", "#000")
  .text("Method");

var legKeyX = [274, 420, 564, 718, 885];
var legTextX = [300, 447, 590, 742, 909];
var legRowY = [683, 717];
var legend = svg.append("g").selectAll("g")
  .data(methods)
  .join("g")
    .attr("transform", function(d, i) {
      return "translate(0," + legRowY[i % 2] + ")";
    });
legend.append("line")
  .attr("x1", function(d, i) { return legKeyX[Math.floor(i / 2)]; })
  .attr("x2", function(d, i) { return legKeyX[Math.floor(i / 2)] + 14; })
  .attr("stroke", function(d, i) { return methodColors[i]; })
  .attr("stroke-width", 2);
legend.append("text")
  .attr("x", function(d, i) { return legTextX[Math.floor(i / 2)]; })
  .attr("dy", "0.36em")
  .style("font-size", "22px").style("fill", "#000")
  .text(function(d) { return d; });

</script>
</body>
